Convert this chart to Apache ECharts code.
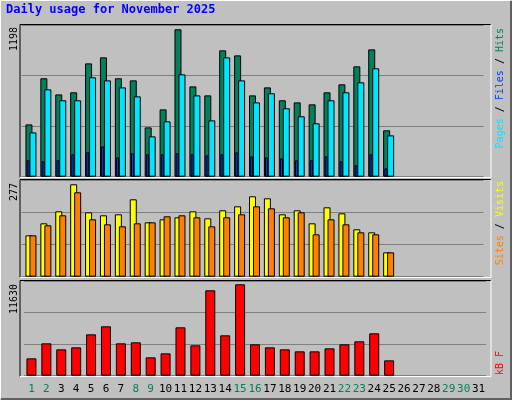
<!DOCTYPE html>
<html>
<head>
<meta charset="utf-8">
<script src="https://cdn.jsdelivr.net/npm/echarts@6/dist/echarts.min.js"></script>
<style>html,body{margin:0;padding:0;background:#c0c0c0}#main{width:512px;height:400px}</style>
</head>
<body>
<div id="main"></div>
<script>
// data
var days = [];
for (var d = 1; d <= 31; d++) days.push(String(d));
var weekend = ['1','2','8','9','15','16','22','23','29','30'];
var hits   = [425,800,669,686,921,970,800,783,401,547,1198,734,661,1027,986,661,726,621,604,588,686,751,897,1035,377];
var files  = [360,710,621,621,808,783,726,653,328,450,832,661,458,970,783,604,678,556,491,434,621,686,767,881,336];
var pages  = [133,125,133,182,198,247,157,190,182,182,190,182,173,182,198,165,157,149,133,133,165,125,92,182,68];
var visits = [124,160,196,277,193,184,187,232,163,172,178,196,175,199,211,241,235,187,199,160,208,190,142,133,73];
var sites  = [124,154,184,253,172,157,151,160,163,181,184,178,151,178,187,211,205,178,193,127,172,157,133,127,73];
var kbytes = [2207,4118,3353,3608,5264,6283,4118,4245,2335,2844,6155,3863,10867,5136,11630,3990,3608,3353,3099,3099,3481,3990,4372,5391,1953];

var myChart = echarts.init(document.getElementById('main'));
var font = 'DejaVu Sans Mono';
var baseLeft = 25.5, baseRight = 24.5;

var grids = [], xAxes = [], yAxes = [], series = [];
function addPanel(top, height, max, shift, data, color, width, showLabels, grid) {
	var i = grids.length;
	grids.push({left: baseLeft + shift, right: baseRight - shift, top: top, height: height});
	xAxes.push({
		type: 'category', gridIndex: i, data: days,
		axisLine: {show: false}, axisTick: {show: false},
		axisLabel: showLabels ? {
			show: true, interval: 0, fontFamily: font, fontSize: 11, margin: 8,
			color: function (v) { return weekend.indexOf(v) >= 0 ? '#00805c' : '#000'; }
		} : {show: false}
	});
	yAxes.push({
		type: 'value', gridIndex: i, min: 0, max: max, interval: max / 3,
		axisLabel: {show: false}, axisLine: {show: false}, axisTick: {show: false},
		splitLine: {show: grid, lineStyle: {color: '#808080', width: 1}}
	});
	series.push({
		type: 'bar', xAxisIndex: i, yAxisIndex: i, data: data, barWidth: width,
		silent: true, z: i + 2,
		itemStyle: {color: color, borderColor: '#000', borderWidth: 1}
	});
}

// top panel: hits / pages / files
addPanel(25, 151.7, 1233, -4, hits, '#00805c', 7, false, true);
addPanel(25, 151.7, 1233, -4.8, pages, '#0040ff', 3, false, false);
addPanel(25, 151.7, 1233, 0, files, '#00e6ff', 7, false, false);
// middle panel: visits / sites
addPanel(180.3, 96.4, 289, -4, visits, '#ffff00', 7, false, true);
addPanel(180.3, 96.4, 289, 0, sites, '#ff8000', 7, false, false);
// bottom panel: kB
addPanel(281, 94.7, 12050, -1.5, kbytes, '#ff0000', 10, true, true);

function frame(y1, y2) {
	return [
		{type: 'line', shape: {x1: 20, y1: y1, x2: 491, y2: y1}, style: {stroke: '#000', lineWidth: 1}, z: 100},
		{type: 'line', shape: {x1: 20, y1: y1, x2: 20, y2: y2}, style: {stroke: '#000', lineWidth: 1}, z: 100},
		{type: 'line', shape: {x1: 20, y1: y2, x2: 491, y2: y2}, style: {stroke: '#fff', lineWidth: 1}, z: 100},
		{type: 'line', shape: {x1: 491, y1: y1, x2: 491, y2: y2}, style: {stroke: '#fff', lineWidth: 1}, z: 100}
	];
}
function vtext(x, y, align, rich, text) {
	return {type: 'text', x: x, y: y, rotation: Math.PI / 2, z: 100,
		style: {text: text, rich: rich, fill: '#000', align: align, verticalAlign: 'middle', fontFamily: font, fontSize: 10}};
}

var graphic = [
	{type: 'rect', shape: {x: 0.5, y: 0.5, width: 510, height: 398}, style: {fill: 'none', stroke: '#fff', lineWidth: 1}},
	{type: 'polyline', shape: {points: [[511, 1], [511, 399], [1, 399]]}, style: {fill: 'none', stroke: '#606060', lineWidth: 2}},
	{type: 'text', x: 6, y: 10, style: {text: 'Daily usage for November 2025', fill: '#0000ff', fontFamily: font, fontSize: 12, fontWeight: 'bold', verticalAlign: 'middle'}},
	vtext(14, 27, 'right', null, '1198'),
	vtext(14, 183, 'right', null, '277'),
	vtext(14, 284, 'right', null, '11630'),
	vtext(500, 28, 'right', {p: {fill: '#00e6ff'}, f: {fill: '#0040ff'}, h: {fill: '#00805c'}}, '{p|Pages} / {f|Files} / {h|Hits}'),
	vtext(500, 181, 'right', {s: {fill: '#ff8000'}, v: {fill: '#ffff00'}}, '{s|Sites} / {v|Visits}'),
	vtext(500, 375, 'left', {k: {fill: '#ff0000'}}, '{k|kB F}')
].concat(frame(24.5, 177.5), frame(179.5, 277.5), frame(280.5, 376.5));

myChart.setOption({
	animation: false,
	backgroundColor: '#c0c0c0',
	grid: grids,
	xAxis: xAxes,
	yAxis: yAxes,
	series: series,
	graphic: graphic
});
</script>
</body>
</html>
